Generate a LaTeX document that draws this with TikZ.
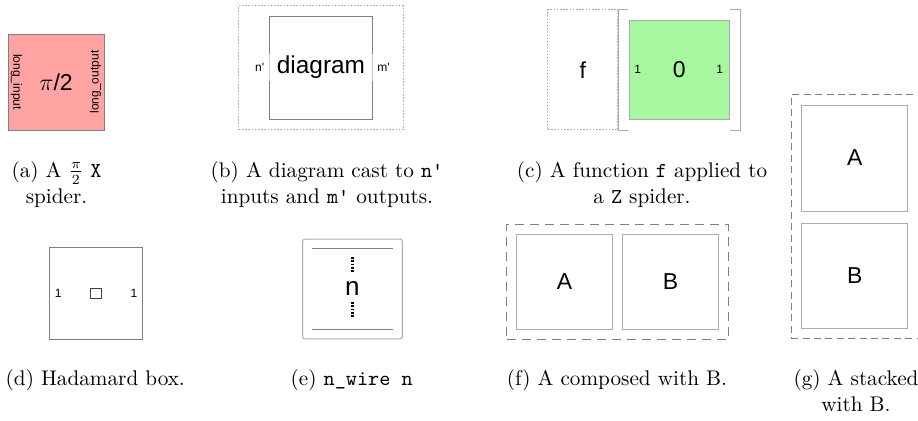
\documentclass[tikz,border=0pt]{standalone}
\usepackage{fontspec}
\usepackage{amsmath}
\usepackage{tikz}
\usetikzlibrary{positioning,fit}
\newfontfamily\boxfont{Liberation Sans}
\definecolor{spiderRed}{HTML}{FFA3A3}
\definecolor{spiderGreen}{HTML}{A6F7A0}
\definecolor{edgeGray}{HTML}{7F7F7F}
\definecolor{lightGray}{HTML}{ABABAB}

\begin{document}
\begin{tikzpicture}[x=0.5pt, y=-0.5pt,
    sbox/.style={draw=edgeGray, line width=0.5pt, inner sep=0pt, align=center, font=\boxfont\fontsize{11.5}{13}\selectfont},
    lbl/.style={inner sep=1.5pt, font=\boxfont\fontsize{6}{7}\selectfont},
    dotbox/.style={draw=lightGray, line width=0.5pt, dash pattern=on 0.8pt off 0.8pt, inner sep=0pt},
    dashbox/.style={draw=edgeGray, line width=0.5pt, dash pattern=on 4.5pt off 3pt, inner sep=0pt},
    brk/.style={draw=lightGray, line width=0.7pt},
    wire/.style={draw=edgeGray, line width=0.5pt},
    dots/.style={line width=1.3pt, dash pattern=on 0.9pt off 0.8pt},
    captext/.style={anchor=base, align=center, font=\fontsize{10.6}{13}\selectfont}
]
\useasboundingbox (0,0) rectangle (918,420);
\clip (0,0) rectangle (918,420);
% (a) X spider
\node[sbox, fill=spiderRed, minimum width=48pt, minimum height=48pt] (xsp) at (56,82) {$\pi$/2};
\node[lbl, rotate=-90, anchor=south] (xin) at (xsp.west) {long\_input};
\node[lbl, rotate=90, anchor=south] (xout) at (xsp.east) {long\_output};
% (b) cast diagram
\node[sbox, minimum width=51.7pt, minimum height=51.5pt] (dbox) at (321,67.5) {};
\node[inner xsep=4.5pt, inner ysep=1pt, fill=white, fill opacity=0.6, text opacity=1, font=\boxfont\fontsize{12.2}{14}\selectfont] (dtxt) at (dbox) {diagram};
\node[lbl, left=0.6pt of dbox] (nin) {n'};
\node[lbl, right=0.4pt of dbox] (mout) {m'};
\node[dotbox, fit=(dbox), inner xsep=15pt, inner ysep=5pt] (dcast) {};
% (c) function on a Z spider
\node[sbox, draw=lightGray, fill=spiderGreen, minimum width=50pt, minimum height=49.6pt] (zsp) at (679.3,69.7) {0};
\node[lbl, anchor=west, inner sep=2.6pt] (zin) at (zsp.west) {1};
\node[lbl, anchor=east, inner sep=3.2pt] (zout) at (zsp.east) {1};
\node[fit=(zsp), inner sep=5pt] (zbr) {};
\node[dotbox, sbox, draw=lightGray, dash pattern=on 0.8pt off 0.8pt, minimum width=35pt, minimum height=60pt, left=0pt of zbr] (fbox) {f};
\draw[brk] ([xshift=5pt]zbr.north west) -- (zbr.north west) -- (zbr.south west) -- ([xshift=5pt]zbr.south west);
\draw[brk] ([xshift=-5pt]zbr.north east) -- (zbr.north east) -- (zbr.south east) -- ([xshift=-5pt]zbr.south east);
% (d) Hadamard box
\node[sbox, minimum width=46.7pt, minimum height=46pt] (hbox) at (96,293.3) {};
\node[draw=black!75, line width=0.5pt, inner sep=0pt, minimum size=5.2pt] (hsq) at (hbox) {};
\node[lbl, anchor=west, inner sep=2.8pt] (hin) at (hbox.west) {1};
\node[lbl, anchor=east, inner sep=2.8pt] (hout) at (hbox.east) {1};
% (e) n wires
\node[sbox, draw=lightGray, rounded corners=1pt, minimum width=49.8pt, minimum height=49.8pt] (wbox) at (352.5,289) {};
\node[font=\boxfont\fontsize{13}{15}\selectfont, inner sep=0pt] (wn) at (352.3,288) {n};
\draw[wire] ([shift={(10,10)}]wbox.north west) -- ([shift={(-10,10)}]wbox.north east);
\draw[wire] ([shift={(10,-10)}]wbox.south west) -- ([shift={(-10,-10)}]wbox.south east);
\coordinate (dt1) at (352.3,256.7);
\coordinate (dt2) at (352.3,273.3);
\coordinate (db1) at (352.3,301.7);
\coordinate (db2) at (352.3,318.3);
\draw[dots] (dt1) -- (dt2);
\draw[dots] (db1) -- (db2);
% (f) composed
\node[sbox, draw=lightGray, minimum width=47.8pt, minimum height=47.5pt] (fA) at (564.5,281.8) {A};
\node[sbox, draw=lightGray, minimum width=47.8pt, minimum height=47.5pt, right=4.7pt of fA] (fB) {B};
\node[dashbox, fit=(fA)(fB), inner sep=4.7pt] (fcomp) {};
% (g) stacked
\node[sbox, draw=lightGray, minimum width=53pt, minimum height=53pt] (gA) at (854.7,158) {A};
\node[sbox, draw=lightGray, minimum width=53pt, minimum height=52.3pt, below=5.85pt of gA] (gB) {B};
\node[dashbox, dash pattern=on 3.5pt off 2.2pt, fit=(gA)(gB), inner sep=5pt] (gstack) {};
% Captions
\node[captext] (capa) at (56.5,203) {(a) A $\frac{\pi}{2}$ \texttt{X}\\spider.};
\node[captext] (capb) at (327,203) {(b) A diagram cast to \texttt{n'}\\inputs and \texttt{m'} outputs.};
\node[captext] (capc) at (642,203) {(c) A function \texttt{f} applied to\\a \texttt{Z} spider.};
\node[captext] (capd) at (95.3,385) {(d) Hadamard box.};
\node[captext] (cape) at (351.7,385) {(e) \texttt{n\_wire n}};
\node[captext] (capf) at (617,385) {(f) A composed with B.};
\node[captext] (capg) at (856,411) {(g) A stacked\\with B.};
\end{tikzpicture}
\end{document}
